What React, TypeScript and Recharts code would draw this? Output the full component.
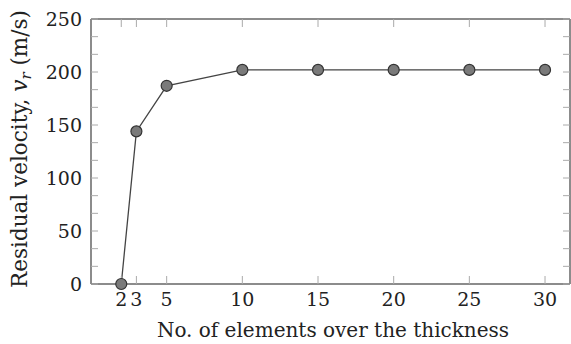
import { Line, LineChart, XAxis, YAxis } from "recharts";

const elements = [2, 3, 5, 10, 15, 20, 25, 30];
const velocity = [0, 144, 187, 202, 202, 202, 202, 202];
const xTicks = [2, 3, 5, 10, 15, 20, 25, 30];
const yTicks = [0, 50, 100, 150, 200, 250];
const yMinorTicks = [
  0, 16.667, 33.333, 50, 66.667, 83.333, 100, 116.667, 133.333, 150, 166.667,
  183.333, 200, 216.667, 233.333, 250,
];

const data = elements.map((n, i) => ({ n, v: velocity[i] }));

const FONT = "DejaVu Serif";
const BOX = "#666";
const TICK = "#aaa";

// tick marks only, no label text
const noLabel = () => <g />;

export default function App() {
  return (
    <div style={{ position: "absolute", left: 0, top: 0, background: "#fff" }}>
      <LineChart
        width={571}
        height={344}
        data={data}
        margin={{ top: 19, right: 1, bottom: 0, left: 0 }}
      >
        {/* bottom axis with labels */}
        <XAxis
          xAxisId={0}
          dataKey="n"
          type="number"
          domain={[0, 31.65]}
          ticks={xTicks}
          interval={0}
          height={60}
          tickLine={false}
          tickSize={0}
          tickMargin={9}
          axisLine={{ stroke: BOX, strokeWidth: 1.5 }}
          tick={{ fill: "#222", fontSize: 19, style: { fontFamily: FONT } }}
          label={() => (
            <text
              x={333}
              y={337}
              textAnchor="middle"
              fill="#222"
              fontSize={20}
              style={{ fontFamily: FONT }}
            >
              No. of elements over the thickness
            </text>
          )}
        />
        {/* inward ticks, bottom */}
        <XAxis
          xAxisId="bm"
          dataKey="n"
          type="number"
          domain={[0, 31.65]}
          ticks={xTicks}
          interval={0}
          mirror
          height={10}
          tick={noLabel}
          tickSize={8}
          axisLine={false}
          tickLine={{ stroke: TICK, strokeWidth: 1 }}
        />
        {/* top frame */}
        <XAxis
          xAxisId="top"
          orientation="top"
          dataKey="n"
          type="number"
          domain={[0, 31.65]}
          ticks={xTicks}
          interval={0}
          mirror
          height={10}
          tick={noLabel}
          tickSize={8}
          axisLine={{ stroke: BOX, strokeWidth: 1.5 }}
          tickLine={{ stroke: TICK, strokeWidth: 1 }}
        />
        <YAxis
          yAxisId={0}
          type="number"
          domain={[0, 250]}
          ticks={yTicks}
          interval={0}
          width={91}
          tickLine={false}
          tickSize={0}
          tickMargin={9}
          axisLine={{ stroke: BOX, strokeWidth: 1.5 }}
          tick={{ fill: "#222", fontSize: 19, style: { fontFamily: FONT } }}
          label={() => (
            <text
              x={0}
              y={0}
              transform="translate(27 149) rotate(-90)"
              textAnchor="middle"
              fill="#222"
              fontSize={21.5}
              style={{ fontFamily: FONT }}
            >
              Residual velocity,{" "}
              <tspan fontStyle="italic">v</tspan>
              <tspan fontStyle="italic" fontSize={15} dy={4}>
                r
              </tspan>
              <tspan dy={-4}> (m/s)</tspan>
            </text>
          )}
        />
        {/* inward ticks, left */}
        <YAxis
          yAxisId="lm"
          type="number"
          domain={[0, 250]}
          ticks={yMinorTicks}
          interval={0}
          mirror
          width={10}
          tick={noLabel}
          tickSize={7}
          axisLine={false}
          tickLine={{ stroke: TICK, strokeWidth: 1 }}
        />
        {/* right frame */}
        <YAxis
          yAxisId="right"
          orientation="right"
          type="number"
          domain={[0, 250]}
          ticks={yMinorTicks}
          interval={0}
          mirror
          width={10}
          tick={noLabel}
          tickSize={7}
          axisLine={{ stroke: BOX, strokeWidth: 1.5 }}
          tickLine={{ stroke: TICK, strokeWidth: 1 }}
        />
        {/* hidden series so the frame axes get drawn */}
        <Line
          xAxisId="bm"
          yAxisId="lm"
          dataKey="v"
          stroke="none"
          dot={false}
          activeDot={false}
          isAnimationActive={false}
        />
        <Line
          xAxisId="top"
          yAxisId="right"
          dataKey="v"
          stroke="none"
          dot={false}
          activeDot={false}
          isAnimationActive={false}
        />
        <Line
          xAxisId={0}
          yAxisId={0}
          dataKey="v"
          stroke="#444"
          strokeWidth={1.3}
          dot={{ r: 5.5, fill: "#7a7a7a", stroke: "#333", strokeWidth: 1.2 }}
          isAnimationActive={false}
        />
      </LineChart>
    </div>
  );
}
